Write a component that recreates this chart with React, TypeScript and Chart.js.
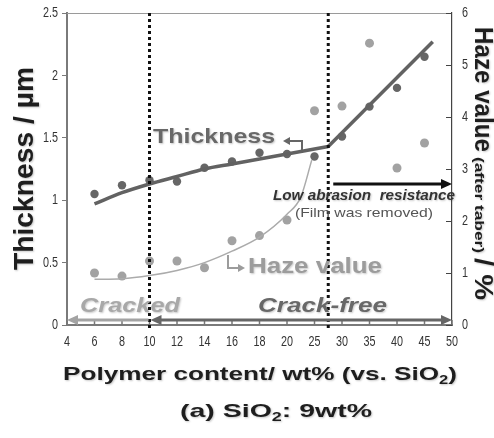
import React, { useEffect, useRef } from "react";
import { Chart, registerables } from "chart.js";
Chart.register(...registerables);

// ---- data ----
const xTickLabels = [4, 6, 8, 10, 12, 14, 16, 18, 20, 25, 30, 35, 40, 45, 50];
const thicknessTicks = [0, 0.5, 1, 1.5, 2, 2.5];
const hazeTicks = [0, 1, 2, 3, 4, 5, 6];
const thicknessContent = [6, 8, 10, 12, 14, 16, 18, 20, 25, 30, 35, 40, 45];
const thicknessValues = [1.05, 1.12, 1.16, 1.15, 1.26, 1.31, 1.38, 1.37, 1.35, 1.51, 1.75, 1.9, 2.15];
const hazeContent = [6, 8, 10, 12, 14, 16, 18, 20, 25, 30, 35, 40, 45];
const hazeValues = [1.0, 0.94, 1.23, 1.23, 1.1, 1.62, 1.72, 2.02, 4.12, 4.21, 5.42, 3.02, 3.5];
const thicknessFitContent = [6, 8, 10, 12, 14, 16, 18, 20, 27.5];
const thicknessFitValues = [0.97, 1.06, 1.13, 1.19, 1.25, 1.29, 1.33, 1.37, 1.43];
const thicknessRiseContent = [27.5, 46.5];
const thicknessRiseValues = [1.43, 2.27];
const hazeFitContent = [6, 8, 10, 12, 14, 16, 18, 20, 22.5, 24.5];
const hazeFitValues = [0.88, 0.89, 0.95, 1.05, 1.2, 1.42, 1.69, 2.13, 2.46, 3.17];
const boundaryContent = [10, 27.5];

// the x axis is piecewise: step 2 up to 20, then step 5
function toIdx(wt: number): number {
  return wt <= 20 ? (wt - 4) / 2 : 8 + (wt - 20) / 5;
}
function pts(xs: number[], ys: number[]) {
  return xs.map((x, i) => ({ x: toIdx(x), y: ys[i] }));
}

const SANS = '"Liberation Sans", Arial, sans-serif';

type Part = { t: string; font: string; dy?: number };

function richText(ctx: CanvasRenderingContext2D, parts: Part[], x: number, y: number, width: number, color: string, angle = 0, shadow = true) {
  ctx.save();
  let total = 0;
  const ws = parts.map((p) => {
    ctx.font = p.font;
    const w = ctx.measureText(p.t).width;
    total += w;
    return w;
  });
  ctx.translate(x, y);
  ctx.rotate(angle);
  ctx.scale(width / total, 1);
  ctx.fillStyle = color;
  ctx.textAlign = "left";
  ctx.textBaseline = "alphabetic";
  if (shadow) {
    ctx.shadowColor = "rgba(0,0,0,0.22)";
    ctx.shadowBlur = 2;
    ctx.shadowOffsetX = 1;
    ctx.shadowOffsetY = 1;
  }
  let cx = 0;
  parts.forEach((p, i) => {
    ctx.font = p.font;
    ctx.fillText(p.t, cx, p.dy || 0);
    cx += ws[i];
  });
  ctx.restore();
}

function fitText(ctx: CanvasRenderingContext2D, t: string, x: number, y: number, width: number, font: string, color: string, angle = 0, shadow = true) {
  richText(ctx, [{ t, font }], x, y, width, color, angle, shadow);
}

// condensed tick label (the reference uses a narrow face)
function tickText(ctx: CanvasRenderingContext2D, t: string, x: number, y: number, align: "left" | "center" | "right") {
  const sx = 0.72;
  ctx.save();
  ctx.font = `15px ${SANS}`;
  const w = ctx.measureText(t).width * sx;
  const x0 = align === "center" ? x - w / 2 : align === "right" ? x - w : x;
  ctx.translate(x0, y);
  ctx.scale(sx, 1);
  ctx.fillStyle = "#333";
  ctx.textAlign = "left";
  ctx.textBaseline = "middle";
  ctx.fillText(t, 0, 0);
  ctx.restore();
}

function head(ctx: CanvasRenderingContext2D, x: number, y: number, dir: number, len: number, half: number) {
  ctx.beginPath();
  ctx.moveTo(x, y);
  ctx.lineTo(x - dir * len, y - half);
  ctx.lineTo(x - dir * len, y + half);
  ctx.closePath();
  ctx.fill();
}

const overlay = {
  id: "overlay",
  beforeDatasetsDraw(chart: any) {
    const ctx: CanvasRenderingContext2D = chart.ctx;
    const { left, right, top, bottom } = chart.chartArea;
    const xs = chart.scales.x;
    const yl = chart.scales.y;
    const yr = chart.scales.y1;
    ctx.save();
    // top frame line
    ctx.strokeStyle = "#9a9a9a";
    ctx.lineWidth = 1;
    ctx.beginPath();
    ctx.moveTo(left, top + 0.5);
    ctx.lineTo(right, top + 0.5);
    ctx.stroke();
    // inward ticks on x axis
    ctx.strokeStyle = "#777";
    ctx.lineWidth = 1.5;
    xTickLabels.forEach((_, i) => {
      const px = xs.getPixelForValue(i);
      ctx.beginPath();
      ctx.moveTo(px, bottom);
      ctx.lineTo(px, bottom - 5);
      ctx.stroke();
    });
    // inward ticks on right axis
    ctx.strokeStyle = "#444";
    ctx.lineWidth = 1;
    hazeTicks.forEach((v) => {
      const py = Math.round(yr.getPixelForValue(v)) + 0.5;
      ctx.beginPath();
      ctx.moveTo(right, py);
      ctx.lineTo(right - 6, py);
      ctx.stroke();
    });
    ctx.restore();

    // tick labels
    xTickLabels.forEach((lab, i) => tickText(ctx, String(lab), xs.getPixelForValue(i), bottom + 17, "center"));
    thicknessTicks.forEach((v) => tickText(ctx, String(v), left - 9, yl.getPixelForValue(v), "right"));
    hazeTicks.forEach((v) => tickText(ctx, String(v), right + 10, yr.getPixelForValue(v), "left"));
  },
  afterDatasetsDraw(chart: any) {
    const ctx: CanvasRenderingContext2D = chart.ctx;
    const { left, right, top, bottom } = chart.chartArea;
    const xs = chart.scales.x;
    const b1 = xs.getPixelForValue(toIdx(boundaryContent[0]));
    const b2 = xs.getPixelForValue(toIdx(boundaryContent[1]));
    ctx.save();
    // dotted boundaries
    ctx.strokeStyle = "#111";
    ctx.lineWidth = 3;
    ctx.setLineDash([3, 3]);
    [b1, b2].forEach((bx) => {
      ctx.beginPath();
      ctx.moveTo(bx, top);
      ctx.lineTo(bx, bottom + 6);
      ctx.stroke();
    });
    ctx.setLineDash([]);

    // bottom arrows
    const ay = bottom - 5;
    ctx.lineWidth = 3;
    ctx.strokeStyle = "#a3a3a3";
    ctx.fillStyle = "#a3a3a3";
    ctx.beginPath();
    ctx.moveTo(left + 8, ay);
    ctx.lineTo(b1 - 1, ay);
    ctx.stroke();
    head(ctx, left, ay, -1, 11, 5);
    ctx.strokeStyle = "#666";
    ctx.fillStyle = "#666";
    ctx.beginPath();
    ctx.moveTo(b1 + 9, ay);
    ctx.lineTo(right - 8, ay);
    ctx.stroke();
    head(ctx, b1 + 1, ay, -1, 11, 5);
    head(ctx, right, ay, 1, 11, 5);

    // low abrasion arrow
    ctx.strokeStyle = "#111";
    ctx.fillStyle = "#111";
    ctx.beginPath();
    ctx.moveTo(b2 + 5, 184);
    ctx.lineTo(right - 8, 184);
    ctx.stroke();
    head(ctx, right, 184, 1, 11, 5);

    // thickness bracket
    ctx.strokeStyle = "#666";
    ctx.fillStyle = "#666";
    ctx.lineWidth = 2;
    ctx.beginPath();
    ctx.moveTo(302, 150);
    ctx.lineTo(302, 141);
    ctx.lineTo(289, 141);
    ctx.stroke();
    head(ctx, 283, 141, -1, 7, 4);
    // haze bracket
    ctx.strokeStyle = "#9c9c9c";
    ctx.fillStyle = "#9c9c9c";
    ctx.beginPath();
    ctx.moveTo(228, 255);
    ctx.lineTo(228, 268);
    ctx.lineTo(239, 268);
    ctx.stroke();
    head(ctx, 245, 268, 1, 7, 4);
    ctx.restore();

    // annotations
    fitText(ctx, "Thickness", 153, 143, 122, `bold 21px ${SANS}`, "#686868");
    fitText(ctx, "Haze value", 248, 273, 134, `bold 22px ${SANS}`, "#9c9c9c");
    fitText(ctx, "Low abrasion  resistance", 273, 200, 182, `italic bold 14px ${SANS}`, "#333");
    fitText(ctx, "(Film was removed)", 295, 217, 138, `13px ${SANS}`, "#555", 0, false);
    fitText(ctx, "Cracked", 80, 312, 100, `italic bold 21px ${SANS}`, "#a8a8a8");
    fitText(ctx, "Crack-free", 258, 312, 129, `italic bold 21px ${SANS}`, "#686868");
  },
  afterDraw(chart: any) {
    const ctx: CanvasRenderingContext2D = chart.ctx;
    const big = `bold 19px ${SANS}`;
    const sub = `bold 12px ${SANS}`;
    // axis titles
    fitText(ctx, "Thickness / \u00b5m", 33, 270, 203, `bold 27px ${SANS}`, "#1e1e1e", -Math.PI / 2);
    fitText(ctx, "Haze value", 475, 27, 125, `bold 25px ${SANS}`, "#1e1e1e", Math.PI / 2);
    fitText(ctx, "(after taber)", 475, 157, 96, `bold 13px ${SANS}`, "#1e1e1e", Math.PI / 2);
    fitText(ctx, "/ %", 475, 258, 42, `bold 25px ${SANS}`, "#1e1e1e", Math.PI / 2);
    richText(
      ctx,
      [
        { t: "Polymer content/ wt% (vs. SiO", font: big },
        { t: "2", font: sub, dy: 4 },
        { t: ")", font: big },
      ],
      63, 380, 394, "#1e1e1e"
    );
    richText(
      ctx,
      [
        { t: "(a) SiO", font: big },
        { t: "2", font: sub, dy: 4 },
        { t: ": 9wt%", font: big },
      ],
      180, 417, 192, "#1e1e1e"
    );
  },
};

export default function App() {
  const ref = useRef<HTMLCanvasElement>(null);
  useEffect(() => {
    document.body.style.margin = "0";
    if (!ref.current) return;
    const chart = new Chart(ref.current, {
      type: "line",
      data: {
        datasets: [
          {
            label: "Haze fit",
            data: pts(hazeFitContent, hazeFitValues),
            yAxisID: "y1",
            borderColor: "#ababab",
            borderWidth: 1.5,
            pointRadius: 0,
            cubicInterpolationMode: "monotone",
            fill: false,
          },
          {
            label: "Thickness fit",
            data: pts(thicknessFitContent, thicknessFitValues),
            yAxisID: "y",
            borderColor: "#626262",
            borderWidth: 3.5,
            pointRadius: 0,
            cubicInterpolationMode: "monotone",
            fill: false,
          },
          {
            label: "Thickness rise",
            data: pts(thicknessRiseContent, thicknessRiseValues),
            yAxisID: "y",
            borderColor: "#626262",
            borderWidth: 3.5,
            pointRadius: 0,
            tension: 0,
            fill: false,
          },
          {
            label: "Haze",
            data: pts(hazeContent, hazeValues),
            yAxisID: "y1",
            showLine: false,
            pointRadius: 4.5,
            pointBackgroundColor: "#a2a2a2",
            pointBorderWidth: 0,
            borderColor: "#a2a2a2",
          },
          {
            label: "Thickness",
            data: pts(thicknessContent, thicknessValues),
            yAxisID: "y",
            showLine: false,
            pointRadius: 4.2,
            pointBackgroundColor: "#666",
            pointBorderWidth: 0,
            borderColor: "#666",
          },
        ],
      },
      options: {
        animation: false,
        responsive: true,
        maintainAspectRatio: false,
        layout: { padding: { top: 13, left: 0, right: 0, bottom: 0 } },
        plugins: { legend: { display: false }, tooltip: { enabled: false } },
        scales: {
          x: {
            type: "linear",
            min: 0,
            max: xTickLabels.length - 1,
            afterFit: (s: any) => {
              s.height = 113;
            },
            grid: { display: false, drawTicks: false },
            border: { display: true, color: "#7a7a7a", width: 2 },
            ticks: { stepSize: 1, autoSkip: false, display: false },
          },
          y: {
            position: "left",
            min: 0,
            max: 2.5,
            afterFit: (s: any) => {
              s.width = 67;
            },
            grid: { drawOnChartArea: false, drawTicks: true, tickLength: 5, color: "#7a7a7a" },
            border: { display: true, color: "#7a7a7a", width: 2 },
            ticks: { stepSize: 0.5, display: false },
          },
          y1: {
            position: "right",
            min: 0,
            max: 6,
            afterFit: (s: any) => {
              s.width = 42;
            },
            grid: { display: false, drawTicks: false },
            border: { display: true, color: "#444", width: 1.2 },
            ticks: { stepSize: 1, display: false },
          },
        },
      },
      plugins: [overlay],
    });
    return () => chart.destroy();
  }, []);
  return (
    <div style={{ width: 494, height: 438, position: "relative" }}>
      <canvas ref={ref} />
    </div>
  );
}
